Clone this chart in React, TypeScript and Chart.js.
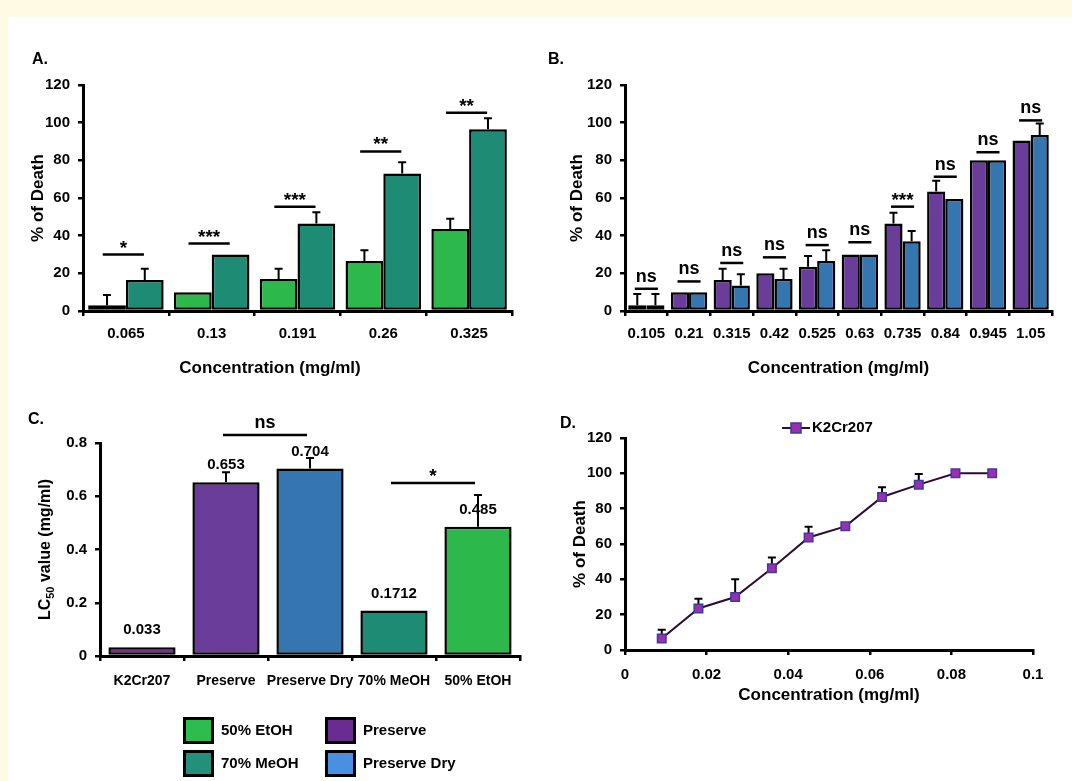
import React, { useEffect, useRef } from 'react';
import { Chart, registerables } from 'chart.js';
Chart.register(...registerables);

const FONT = "'Liberation Sans', Arial, sans-serif";
const CREAM = '#fefae4';

// ---------- Panel A ----------
const concA = ['0.065', '0.13', '0.191', '0.26', '0.325'];
const etohA = [3, 10, 17, 26.5, 43.5];
const etohAErr = [5.5, 0, 5.5, 5.7, 5.5];
const meohA = [16.5, 30, 46.5, 73, 96.5];
const meohAErr = [6, 0, 6, 6, 5.8];
const sigAY = [30, 35.8, 55.4, 84.7, 105.2];
const sigAText = ['*', '***', '***', '**', '**'];

// ---------- Panel B ----------
const concB = ['0.105', '0.21', '0.315', '0.42', '0.525', '0.63', '0.735', '0.84', '0.945', '1.05'];
const preserveB = [3, 10, 16.5, 20, 23.5, 30, 46.5, 63.5, 80, 90.5];
const preserveBErr = [6, 0, 6, 0, 5.7, 0, 5.7, 5.7, 0, 0];
const dryB = [3, 10, 13.5, 17, 26.5, 30, 37, 59.5, 80, 93.5];
const dryBErr = [6, 0, 6, 5.5, 5.7, 0, 5.5, 0, 0, 6];
const sigBY = [11.8, 15.7, 25.5, 28.5, 35, 36.5, 55.4, 71.3, 84.3, 101.2];
const sigBText = ['ns', 'ns', 'ns', 'ns', 'ns', 'ns', '***', 'ns', 'ns', 'ns'];

// ---------- Panel C ----------
const groupsC = ['K2Cr207', 'Preserve', 'Preserve Dry', '70% MeOH', '50% EtOH'];
const lc50C = [0.033, 0.653, 0.704, 0.1712, 0.485];
const lc50CErr = [0, 0.037, 0.04, 0, 0.12];
const sigCFrom = [1, 3];
const sigCTo = [2, 4];
const sigCY = [0.83, 0.65];
const sigCText = ['ns', '*'];
const legendLabels = ['50% EtOH', 'Preserve', '70% MeOH', 'Preserve Dry'];

// ---------- Panel D ----------
const concD = [0.009, 0.018, 0.027, 0.036, 0.045, 0.054, 0.063, 0.072, 0.081, 0.09];
const deathD = [6.5, 23.5, 30, 46.3, 63.7, 70, 86.6, 93.6, 100, 100];
const deathDErr = [5, 5.5, 10, 6, 6, 0, 5.5, 6, 0, 0];

// colours
const C_ETOH = '#2db84b';
const C_MEOH = '#1e8c74';
const C_PRES = '#6b3d9b';
const C_DRY = '#3676b0';
const C_K2 = '#7a2f8e';
const legendColors = ['#2dbd4e', '#6a2c91', '#23907c', '#4a90e2'];

const font = (size: number) => ({ family: FONT, size, weight: 'bold' as const });

function xAxisBase(size = 15, pad = 9) {
  return {
    border: { display: true, color: '#000', width: 3 },
    grid: { display: true, drawOnChartArea: false, drawTicks: true, tickLength: 5, color: '#000', lineWidth: 2.5 },
    ticks: { color: '#000', font: font(size), padding: pad, autoSkip: false, maxRotation: 0 },
  };
}
function yAxisBase(min: number, max: number, step: number) {
  return {
    min, max,
    border: { display: true, color: '#000', width: 3 },
    grid: { display: true, drawOnChartArea: false, drawTicks: true, tickLength: 5, color: '#000', lineWidth: 2.5 },
    ticks: { color: '#000', font: font(15), padding: 8, stepSize: step },
  };
}

const errorBarPlugin = (hook: string, cap: number) => ({
  id: 'errorBars' + hook,
  [hook](chart: any) {
    const ctx = chart.ctx;
    const ys = chart.scales.y;
    chart.data.datasets.forEach((ds: any, i: number) => {
      const errs = ds.errors;
      if (!errs) return;
      const meta = chart.getDatasetMeta(i);
      meta.data.forEach((el: any, j: number) => {
        const e = errs[j];
        if (!e) return;
        const raw = ds.data[j];
        const v = typeof raw === 'number' ? raw : raw.y;
        const top = ys.getPixelForValue(v + e);
        ctx.save();
        ctx.strokeStyle = '#000';
        ctx.lineWidth = 2;
        ctx.beginPath();
        ctx.moveTo(el.x, el.y);
        ctx.lineTo(el.x, top);
        ctx.moveTo(el.x - cap, top);
        ctx.lineTo(el.x + cap, top);
        ctx.stroke();
        ctx.restore();
      });
    });
  },
});

function drawSigText(ctx: any, text: string, x: number, lineY: number) {
  ctx.save();
  ctx.fillStyle = '#000';
  ctx.textAlign = 'center';
  ctx.textBaseline = 'alphabetic';
  if (text.indexOf('*') >= 0) {
    ctx.font = `bold 19px ${FONT}`;
    ctx.fillText(text, x, lineY - 1);
  } else {
    ctx.font = `bold 18px ${FONT}`;
    ctx.fillText(text, x, lineY - 7);
  }
  ctx.restore();
}

const groupSigPlugin = (ys: number[], texts: string[], half: number, shift: number) => ({
  id: 'groupSig',
  afterDraw(chart: any) {
    const ctx = chart.ctx;
    const xs = chart.scales.x;
    const yS = chart.scales.y;
    const cw = xs.width / chart.data.labels.length;
    ys.forEach((yv, i) => {
      const c = xs.getPixelForValue(i) + shift * cw;
      const y = yS.getPixelForValue(yv);
      ctx.save();
      ctx.strokeStyle = '#000';
      ctx.lineWidth = 2.5;
      ctx.beginPath();
      ctx.moveTo(c - half * cw, y);
      ctx.lineTo(c + half * cw, y);
      ctx.stroke();
      ctx.restore();
      drawSigText(ctx, texts[i], c, y);
    });
  },
});

const textPlugin = (id: string, items: { text: string; x: number; y: number; size: number; align?: string }[]) => ({
  id,
  afterDraw(chart: any) {
    const ctx = chart.ctx;
    items.forEach((it) => {
      ctx.save();
      ctx.fillStyle = '#000';
      ctx.font = `bold ${it.size}px ${FONT}`;
      ctx.textAlign = it.align || 'left';
      ctx.textBaseline = 'middle';
      ctx.fillText(it.text, it.x, it.y);
      ctx.restore();
    });
  },
});

function configA() {
  return {
    type: 'bar',
    data: {
      labels: concA,
      datasets: [
        { label: '50% EtOH', data: etohA, errors: etohAErr, backgroundColor: C_ETOH, borderColor: '#000', borderWidth: 2.5, borderSkipped: false },
        { label: '70% MeOH', data: meohA, errors: meohAErr, backgroundColor: C_MEOH, borderColor: '#000', borderWidth: 2.5, borderSkipped: false },
      ],
    },
    options: {
      animation: false, responsive: false, devicePixelRatio: 1,
      layout: { padding: { left: 0, right: 18, top: 45, bottom: 0 } },
      datasets: { bar: { categoryPercentage: 0.88, barPercentage: 1 } },
      plugins: { legend: { display: false }, tooltip: { enabled: false } },
      scales: {
        x: { ...xAxisBase(), afterFit: (s: any) => { s.height = 79; } },
        y: {
          ...yAxisBase(0, 120, 20),
          title: { display: true, text: '% of Death', color: '#000', font: font(17), padding: { top: 18, bottom: 0 } },
          afterFit: (s: any) => { s.width = 73; },
        },
      },
    },
    plugins: [
      errorBarPlugin('afterDatasetsDraw', 4),
      groupSigPlugin(sigAY, sigAText, 0.24, -0.03),
      textPlugin('txtA', [
        { text: 'A.', x: 22, y: 20, size: 16 },
        { text: 'Concentration (mg/ml)', x: 260, y: 328, size: 17, align: 'center' },
      ]),
    ],
  };
}

function configB() {
  return {
    type: 'bar',
    data: {
      labels: concB,
      datasets: [
        { label: 'Preserve', data: preserveB, errors: preserveBErr, backgroundColor: C_PRES, borderColor: '#000', borderWidth: 2.5, borderSkipped: false },
        { label: 'Preserve Dry', data: dryB, errors: dryBErr, backgroundColor: C_DRY, borderColor: '#000', borderWidth: 2.5, borderSkipped: false },
      ],
    },
    options: {
      animation: false, responsive: false, devicePixelRatio: 1,
      layout: { padding: { left: 0, right: 18, top: 45, bottom: 0 } },
      datasets: { bar: { categoryPercentage: 0.85, barPercentage: 1 } },
      plugins: { legend: { display: false }, tooltip: { enabled: false } },
      scales: {
        x: {
          ...xAxisBase(),
          title: { display: true, text: 'Concentration (mg/ml)', color: '#000', font: font(17), padding: { top: 0, bottom: 11 } },
          afterFit: (s: any) => { s.height = 79; },
        },
        y: {
          ...yAxisBase(0, 120, 20),
          title: { display: true, text: '% of Death', color: '#000', font: font(17), padding: { top: 37, bottom: 0 } },
          afterFit: (s: any) => { s.width = 95; },
        },
      },
    },
    plugins: [
      errorBarPlugin('afterDatasetsDraw', 4),
      groupSigPlugin(sigBY, sigBText, 0.27, 0),
      textPlugin('txtB', [{ text: 'B.', x: 18, y: 20, size: 16 }]),
    ],
  };
}

function configC() {
  return {
    type: 'bar',
    data: {
      labels: groupsC,
      datasets: [
        {
          label: 'LC50', data: lc50C, errors: lc50CErr,
          backgroundColor: [C_K2, C_PRES, C_DRY, C_MEOH, C_ETOH],
          borderColor: '#000', borderWidth: 2.5, borderSkipped: false,
        },
      ],
    },
    options: {
      animation: false, responsive: false, devicePixelRatio: 1,
      layout: { padding: { left: 0, right: 10, top: 43, bottom: 84 } },
      datasets: { bar: { categoryPercentage: 0.8, barPercentage: 1 } },
      plugins: { legend: { display: false }, tooltip: { enabled: false } },
      scales: {
        x: { ...xAxisBase(14, 12), afterFit: (s: any) => { s.height = 40; } },
        y: { ...yAxisBase(0, 0.8, 0.2), afterFit: (s: any) => { s.width = 90; } },
      },
    },
    plugins: [
      errorBarPlugin('afterDatasetsDraw', 4),
      {
        id: 'cExtras',
        afterDraw(chart: any) {
          const ctx = chart.ctx;
          const meta = chart.getDatasetMeta(0);
          const yS = chart.scales.y;
          // value labels
          meta.data.forEach((el: any, i: number) => {
            ctx.save();
            ctx.fillStyle = '#000';
            ctx.font = `bold 15px ${FONT}`;
            ctx.textAlign = 'center';
            ctx.textBaseline = 'middle';
            ctx.fillText(String(lc50C[i]), el.x, el.y - 17);
            ctx.restore();
          });
          // significance
          sigCY.forEach((yv, k) => {
            const x1 = meta.data[sigCFrom[k]].x - 3;
            const x2 = meta.data[sigCTo[k]].x - 3;
            const y = yS.getPixelForValue(yv);
            ctx.save();
            ctx.strokeStyle = '#000';
            ctx.lineWidth = 2.5;
            ctx.beginPath();
            ctx.moveTo(x1, y);
            ctx.lineTo(x2, y);
            ctx.stroke();
            ctx.restore();
            drawSigText(ctx, sigCText[k], (x1 + x2) / 2, y);
          });
          // rotated y title with subscript
          ctx.save();
          ctx.translate(36, (chart.chartArea.top + chart.chartArea.bottom) / 2);
          ctx.rotate(-Math.PI / 2);
          ctx.fillStyle = '#000';
          ctx.textBaseline = 'middle';
          ctx.textAlign = 'left';
          const f1 = `bold 16px ${FONT}`;
          const f2 = `bold 11px ${FONT}`;
          ctx.font = f1;
          const w1 = ctx.measureText('LC').width;
          const w3 = ctx.measureText(' value (mg/ml)').width;
          ctx.font = f2;
          const w2 = ctx.measureText('50').width;
          let x = -(w1 + w2 + w3) / 2;
          ctx.font = f1;
          ctx.fillText('LC', x, 0);
          x += w1;
          ctx.font = f2;
          ctx.fillText('50', x, 5);
          x += w2;
          ctx.font = f1;
          ctx.fillText(' value (mg/ml)', x, 0);
          ctx.restore();
          // panel label
          ctx.save();
          ctx.fillStyle = '#000';
          ctx.font = `bold 16px ${FONT}`;
          ctx.textBaseline = 'middle';
          ctx.fillText('C.', 18, 20);
          ctx.restore();
          // legend 2x2
          const colX = [173, 315];
          const rowY = [317, 350];
          legendLabels.forEach((lab, i) => {
            const bx = colX[i % 2];
            const by = rowY[Math.floor(i / 2)];
            ctx.save();
            ctx.fillStyle = legendColors[i];
            ctx.fillRect(bx, by, 31, 27);
            ctx.strokeStyle = '#000';
            ctx.lineWidth = 3;
            ctx.strokeRect(bx + 1.5, by + 1.5, 28, 24);
            ctx.fillStyle = '#000';
            ctx.font = `bold 15px ${FONT}`;
            ctx.textBaseline = 'middle';
            ctx.textAlign = 'left';
            ctx.fillText(lab, bx + 38, by + 14);
            ctx.restore();
          });
        },
      },
    ],
  };
}

function configD() {
  return {
    type: 'line',
    data: {
      datasets: [
        {
          label: 'K2Cr207',
          data: concD.map((c, i) => ({ x: c, y: deathD[i] })),
          errors: deathDErr,
          borderColor: '#2d0b33',
          borderWidth: 2,
          pointStyle: 'rect',
          pointRadius: 6,
          pointBackgroundColor: '#9b2fb0',
          pointBorderColor: '#3d3aa0',
          pointBorderWidth: 1.5,
          tension: 0,
        },
      ],
    },
    options: {
      animation: false, responsive: false, devicePixelRatio: 1,
      layout: { padding: { left: 0, right: 37, top: 38, bottom: 0 } },
      plugins: { legend: { display: false }, tooltip: { enabled: false } },
      scales: {
        x: {
          type: 'linear', min: 0, max: 0.1,
          ...xAxisBase(15, 11),
          ticks: { ...xAxisBase(15, 11).ticks, stepSize: 0.02, callback: (v: number) => String(+v.toFixed(2)) },
          title: { display: true, text: 'Concentration (mg/ml)', color: '#000', font: font(17), padding: { top: 0, bottom: 14 } },
          afterFit: (s: any) => { s.height = 70; },
        },
        y: {
          ...yAxisBase(0, 120, 20),
          title: { display: true, text: '% of Death', color: '#000', font: font(17), padding: { top: 40, bottom: 0 } },
          afterFit: (s: any) => { s.width = 95; },
        },
      },
    },
    plugins: [
      errorBarPlugin('beforeDatasetsDraw', 4),
      {
        id: 'dLegend',
        afterDraw(chart: any) {
          const ctx = chart.ctx;
          const ds = chart.data.datasets[0];
          ctx.save();
          ctx.strokeStyle = ds.borderColor;
          ctx.lineWidth = 2;
          ctx.beginPath();
          ctx.moveTo(252, 28);
          ctx.lineTo(280, 28);
          ctx.stroke();
          ctx.fillStyle = ds.pointBackgroundColor;
          ctx.fillRect(261, 23, 10, 10);
          ctx.strokeStyle = ds.pointBorderColor;
          ctx.lineWidth = 1.5;
          ctx.strokeRect(261, 23, 10, 10);
          ctx.fillStyle = '#000';
          ctx.font = `bold 15px ${FONT}`;
          ctx.textBaseline = 'middle';
          ctx.fillText(ds.label, 282, 28);
          ctx.font = `bold 16px ${FONT}`;
          ctx.fillText('D.', 30, 24);
          ctx.restore();
        },
      },
    ],
  };
}

function ChartPanel({ left, top, width, height, build }: any) {
  const ref = useRef<HTMLCanvasElement>(null);
  useEffect(() => {
    const chart = new Chart(ref.current as HTMLCanvasElement, build());
    return () => chart.destroy();
  }, []);
  return (
    <div style={{ position: 'absolute', left, top, width, height }}>
      <canvas ref={ref} width={width} height={height} style={{ width, height, display: 'block' }} />
    </div>
  );
}

export default function App() {
  return (
    <div style={{ position: 'fixed', left: 0, top: 0, width: 1072, height: 781, background: CREAM, overflow: 'hidden' }}>
      <div style={{ position: 'absolute', left: 8, top: 17, right: 0, bottom: 0, background: '#fff' }} />
      <ChartPanel left={10} top={40} width={520} height={350} build={configA} />
      <ChartPanel left={530} top={40} width={540} height={350} build={configB} />
      <ChartPanel left={10} top={400} width={520} height={380} build={configC} />
      <ChartPanel left={530} top={400} width={540} height={320} build={configD} />
    </div>
  );
}
